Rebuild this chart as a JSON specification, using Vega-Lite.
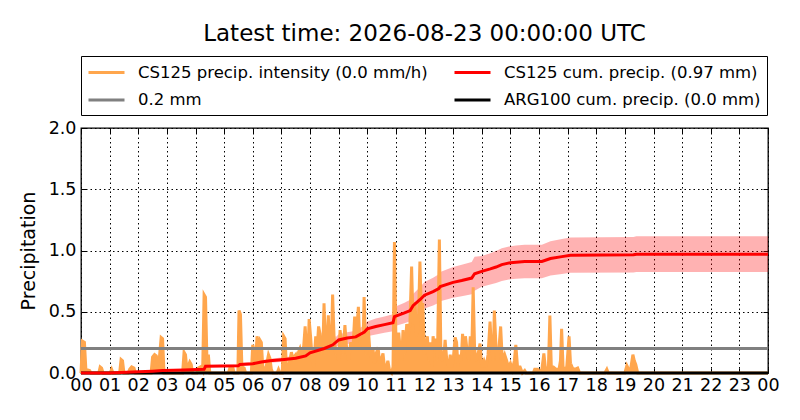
{
  "$schema": "https://vega.github.io/schema/vega-lite/v6.json",
  "width": 687,
  "height": 245,
  "autosize": {"type": "none"},
  "padding": {"left": 81, "top": 128, "right": 32, "bottom": 47},
  "background": "white",
  "title": {
    "text": "Latest time: 2026-08-23 00:00:00 UTC",
    "fontSize": 23,
    "font": "DejaVu Sans",
    "fontWeight": "normal",
    "color": "black",
    "anchor": "middle",
    "frame": "group",
    "baseline": "alphabetic",
    "offset": -8
  },
  "config": {
    "font": "DejaVu Sans",
    "view": {"stroke": "black", "strokeWidth": 1.3},
    "axis": {
      "domain": false,
      "gridColor": "black",
      "gridDash": [1.5, 3],
      "gridWidth": 1,
      "gridOpacity": 1,
      "tickColor": "black",
      "tickSize": -5,
      "tickWidth": 1,
      "labelFont": "DejaVu Sans",
      "labelFontSize": 17.5,
      "labelColor": "black",
      "titleFont": "DejaVu Sans",
      "titleFontSize": 19,
      "titleFontWeight": "normal",
      "titleColor": "black"
    },
    "legend": {
      "symbolType": "M-1,0H3",
      "symbolStrokeWidth": 3,
      "symbolSize": 324,
      "labelFont": "DejaVu Sans",
      "labelFontSize": 16.5,
      "labelColor": "black",
      "labelLimit": 500,
      "labelOffset": 30
    }
  },
  "datasets": {
    "intensity": [
      {"h":0,"v":0},{"h":0.05,"v":0.26},{"h":0.12,"v":0.25},{"h":0.17,"v":0.03},{"h":0.3,"v":0.02},{"h":0.35,"v":0},
      {"h":0.62,"v":0},{"h":0.67,"v":0.05},{"h":0.72,"v":0.04},{"h":0.77,"v":0},
      {"h":1.02,"v":0},{"h":1.07,"v":0.03},{"h":1.12,"v":0},
      {"h":1.35,"v":0},{"h":1.4,"v":0.11},{"h":1.45,"v":0.1},{"h":1.5,"v":0},
      {"h":1.65,"v":0},{"h":1.7,"v":0.03},{"h":1.77,"v":0.05},{"h":1.85,"v":0.04},{"h":1.9,"v":0},
      {"h":2.45,"v":0},{"h":2.5,"v":0.13},{"h":2.57,"v":0.15},{"h":2.63,"v":0.14},{"h":2.68,"v":0.08},{"h":2.73,"v":0.1},{"h":2.8,"v":0.29},{"h":2.85,"v":0.28},{"h":2.9,"v":0},
      {"h":3.55,"v":0},{"h":3.6,"v":0.17},{"h":3.65,"v":0.15},{"h":3.7,"v":0.03},{"h":3.8,"v":0.09},{"h":3.85,"v":0.07},{"h":3.9,"v":0},
      {"h":4.05,"v":0},{"h":4.1,"v":0.04},{"h":4.18,"v":0.05},{"h":4.25,"v":0.02},{"h":4.3,"v":0.64},{"h":4.35,"v":0.62},{"h":4.4,"v":0.1},{"h":4.45,"v":0.15},{"h":4.5,"v":0},
      {"h":5.15,"v":0},{"h":5.2,"v":0.04},{"h":5.3,"v":0.05},{"h":5.35,"v":0},{"h":5.48,"v":0},{"h":5.52,"v":0.51},{"h":5.57,"v":0.48},{"h":5.62,"v":0.05},{"h":5.7,"v":0.04},{"h":5.75,"v":0},
      {"h":5.95,"v":0},{"h":6.0,"v":0.23},{"h":6.05,"v":0.18},{"h":6.1,"v":0.1},{"h":6.15,"v":0.3},{"h":6.2,"v":0.22},{"h":6.25,"v":0.27},{"h":6.3,"v":0.25},{"h":6.35,"v":0.05},{"h":6.45,"v":0.03},{"h":6.55,"v":0.15},{"h":6.6,"v":0.12},{"h":6.65,"v":0.03},{"h":6.7,"v":0},
      {"h":6.85,"v":0},{"h":6.9,"v":0.03},{"h":6.95,"v":0},{"h":7.03,"v":0},{"h":7.08,"v":0.3},{"h":7.13,"v":0.28},{"h":7.18,"v":0.03},{"h":7.25,"v":0.05},{"h":7.35,"v":0.17},{"h":7.4,"v":0.12},{"h":7.5,"v":0.15},{"h":7.55,"v":0.1},{"h":7.6,"v":0.17},{"h":7.65,"v":0.2},{"h":7.7,"v":0.15},{"h":7.78,"v":0.22},{"h":7.83,"v":0.38},{"h":7.88,"v":0.2},{"h":7.93,"v":0.15},{"h":7.97,"v":0.44},
      {"h":8.02,"v":0.3},{"h":8.08,"v":0.1},{"h":8.13,"v":0.05},{"h":8.2,"v":0.3},{"h":8.25,"v":0.2},{"h":8.3,"v":0.38},{"h":8.35,"v":0.32},{"h":8.4,"v":0.15},{"h":8.45,"v":0.2},{"h":8.49,"v":0.57},{"h":8.54,"v":0.2},{"h":8.6,"v":0.3},{"h":8.64,"v":0.47},{"h":8.69,"v":0.2},{"h":8.75,"v":0.3},{"h":8.79,"v":0.64},{"h":8.84,"v":0.3},{"h":8.9,"v":0.15},{"h":8.95,"v":0.2},
      {"h":9.0,"v":0.1},{"h":9.05,"v":0.35},{"h":9.1,"v":0.25},{"h":9.15,"v":0.15},{"h":9.22,"v":0.39},{"h":9.28,"v":0.2},{"h":9.35,"v":0.1},{"h":9.42,"v":0.25},{"h":9.5,"v":0.2},{"h":9.56,"v":0.46},{"h":9.62,"v":0.3},{"h":9.69,"v":0.54},{"h":9.74,"v":0.25},{"h":9.8,"v":0.3},{"h":9.85,"v":0.2},{"h":9.89,"v":0.62},{"h":9.95,"v":0.15},
      {"h":10.0,"v":0.2},{"h":10.04,"v":0.35},{"h":10.1,"v":0.15},{"h":10.15,"v":0.1},{"h":10.2,"v":0.2},{"h":10.25,"v":0.08},{"h":10.3,"v":0.15},{"h":10.38,"v":0.21},{"h":10.43,"v":0.08},{"h":10.5,"v":0.12},{"h":10.55,"v":0.16},{"h":10.6,"v":0.05},{"h":10.65,"v":0.03},{"h":10.72,"v":0.1},{"h":10.78,"v":0.02},{"h":10.85,"v":0},{"h":10.9,"v":0.05},{"h":10.95,"v":1.07},
      {"h":11.0,"v":0.3},{"h":11.05,"v":0.1},{"h":11.1,"v":0.33},{"h":11.15,"v":0.2},{"h":11.2,"v":0.1},{"h":11.25,"v":0.35},{"h":11.3,"v":0.15},{"h":11.38,"v":0.4},{"h":11.43,"v":0.3},{"h":11.49,"v":0.4},{"h":11.55,"v":0.87},{"h":11.6,"v":0.4},{"h":11.67,"v":0.58},{"h":11.72,"v":0.3},{"h":11.78,"v":0.35},{"h":11.84,"v":0.91},{"h":11.89,"v":0.5},{"h":11.94,"v":0.57},
      {"h":12.0,"v":0.15},{"h":12.05,"v":0.2},{"h":12.1,"v":0.3},{"h":12.15,"v":0.1},{"h":12.2,"v":0.25},{"h":12.25,"v":0.05},{"h":12.3,"v":0.3},{"h":12.35,"v":0.2},{"h":12.4,"v":0.28},{"h":12.45,"v":0.1},{"h":12.52,"v":1.09},{"h":12.57,"v":0.2},{"h":12.62,"v":0.1},{"h":12.68,"v":0.15},{"h":12.72,"v":0.27},{"h":12.78,"v":0.1},{"h":12.85,"v":0.05},{"h":12.9,"v":0.15},{"h":12.95,"v":0.05},
      {"h":13.0,"v":0.1},{"h":13.07,"v":0.29},{"h":13.12,"v":0.25},{"h":13.17,"v":0.05},{"h":13.22,"v":0.15},{"h":13.28,"v":0.1},{"h":13.33,"v":0.32},{"h":13.38,"v":0.15},{"h":13.43,"v":0.3},{"h":13.48,"v":0.2},{"h":13.55,"v":0.1},{"h":13.6,"v":0.3},{"h":13.65,"v":0.15},{"h":13.7,"v":0.7},{"h":13.75,"v":0.2},{"h":13.8,"v":0.1},{"h":13.87,"v":0.15},{"h":13.94,"v":0.24},
      {"h":14.0,"v":0.05},{"h":14.08,"v":0.1},{"h":14.15,"v":0.05},{"h":14.22,"v":0.15},{"h":14.29,"v":0.42},{"h":14.34,"v":0.2},{"h":14.4,"v":0.1},{"h":14.44,"v":0.51},{"h":14.5,"v":0.2},{"h":14.55,"v":0.1},{"h":14.6,"v":0.2},{"h":14.66,"v":0.38},{"h":14.72,"v":0.1},{"h":14.8,"v":0.15},{"h":14.87,"v":0.1},{"h":14.93,"v":0.05},
      {"h":15.0,"v":0.08},{"h":15.07,"v":0.03},{"h":15.14,"v":0.1},{"h":15.19,"v":0.23},{"h":15.25,"v":0.05},{"h":15.34,"v":0.05},{"h":15.42,"v":0},{"h":15.5,"v":0.02},{"h":15.55,"v":0},
      {"h":15.8,"v":0},{"h":15.85,"v":0.03},{"h":15.95,"v":0.03},{"h":16.0,"v":0.01},{"h":16.1,"v":0.03},{"h":16.17,"v":0.16},{"h":16.22,"v":0.05},{"h":16.28,"v":0.03},{"h":16.33,"v":0.05},{"h":16.38,"v":0.47},{"h":16.43,"v":0.05},{"h":16.5,"v":0.05},{"h":16.6,"v":0.03},{"h":16.7,"v":0.03},{"h":16.75,"v":0.1},{"h":16.79,"v":0.36},{"h":16.84,"v":0.05},{"h":16.9,"v":0.03},{"h":16.97,"v":0.05},
      {"h":17.05,"v":0.3},{"h":17.1,"v":0.08},{"h":17.17,"v":0.04},{"h":17.25,"v":0.03},{"h":17.35,"v":0.04},{"h":17.42,"v":0},
      {"h":18.3,"v":0},{"h":18.37,"v":0.03},{"h":18.42,"v":0},
      {"h":19.0,"v":0},{"h":19.07,"v":0.06},{"h":19.13,"v":0.03},{"h":19.2,"v":0.03},{"h":19.28,"v":0.15},{"h":19.33,"v":0.1},{"h":19.38,"v":0.07},{"h":19.45,"v":0},
      {"h":24,"v":0}
    ],
    "cum": [
      {"h":0,"c":0,"lo":0,"hi":0},
      {"h":1.0,"c":0,"lo":0,"hi":0},
      {"h":2.0,"c":0.01,"lo":0.008,"hi":0.012},
      {"h":2.5,"c":0.015,"lo":0.012,"hi":0.018},
      {"h":2.85,"c":0.02,"lo":0.017,"hi":0.024},
      {"h":3.6,"c":0.025,"lo":0.021,"hi":0.03},
      {"h":4.3,"c":0.03,"lo":0.025,"hi":0.035},
      {"h":4.35,"c":0.055,"lo":0.046,"hi":0.064},
      {"h":5.5,"c":0.06,"lo":0.05,"hi":0.07},
      {"h":5.55,"c":0.07,"lo":0.058,"hi":0.082},
      {"h":6.0,"c":0.075,"lo":0.062,"hi":0.088},
      {"h":6.3,"c":0.09,"lo":0.075,"hi":0.105},
      {"h":6.6,"c":0.1,"lo":0.083,"hi":0.117},
      {"h":7.1,"c":0.11,"lo":0.091,"hi":0.129},
      {"h":7.5,"c":0.12,"lo":0.1,"hi":0.14},
      {"h":7.85,"c":0.14,"lo":0.116,"hi":0.164},
      {"h":8.0,"c":0.165,"lo":0.137,"hi":0.193},
      {"h":8.5,"c":0.2,"lo":0.166,"hi":0.234},
      {"h":8.8,"c":0.23,"lo":0.191,"hi":0.269},
      {"h":9.0,"c":0.27,"lo":0.224,"hi":0.316},
      {"h":9.3,"c":0.285,"lo":0.237,"hi":0.333},
      {"h":9.6,"c":0.295,"lo":0.245,"hi":0.345},
      {"h":9.9,"c":0.335,"lo":0.278,"hi":0.392},
      {"h":10.0,"c":0.36,"lo":0.299,"hi":0.421},
      {"h":10.3,"c":0.38,"lo":0.315,"hi":0.445},
      {"h":10.6,"c":0.395,"lo":0.328,"hi":0.462},
      {"h":10.9,"c":0.41,"lo":0.34,"hi":0.48},
      {"h":10.95,"c":0.46,"lo":0.382,"hi":0.538},
      {"h":11.3,"c":0.49,"lo":0.407,"hi":0.573},
      {"h":11.5,"c":0.51,"lo":0.423,"hi":0.597},
      {"h":11.6,"c":0.55,"lo":0.457,"hi":0.644},
      {"h":11.85,"c":0.6,"lo":0.498,"hi":0.702},
      {"h":12.0,"c":0.635,"lo":0.527,"hi":0.743},
      {"h":12.3,"c":0.665,"lo":0.552,"hi":0.778},
      {"h":12.5,"c":0.69,"lo":0.573,"hi":0.807},
      {"h":12.55,"c":0.705,"lo":0.585,"hi":0.825},
      {"h":13.0,"c":0.74,"lo":0.614,"hi":0.866},
      {"h":13.3,"c":0.755,"lo":0.627,"hi":0.883},
      {"h":13.65,"c":0.775,"lo":0.643,"hi":0.907},
      {"h":13.75,"c":0.81,"lo":0.672,"hi":0.948},
      {"h":14.0,"c":0.83,"lo":0.705,"hi":0.955},
      {"h":14.3,"c":0.85,"lo":0.722,"hi":0.978},
      {"h":14.5,"c":0.865,"lo":0.735,"hi":0.995},
      {"h":14.7,"c":0.885,"lo":0.752,"hi":1.018},
      {"h":15.0,"c":0.9,"lo":0.765,"hi":1.035},
      {"h":15.2,"c":0.905,"lo":0.769,"hi":1.041},
      {"h":15.5,"c":0.91,"lo":0.774,"hi":1.047},
      {"h":16.1,"c":0.91,"lo":0.774,"hi":1.047},
      {"h":16.4,"c":0.935,"lo":0.795,"hi":1.075},
      {"h":16.8,"c":0.95,"lo":0.808,"hi":1.093},
      {"h":17.1,"c":0.962,"lo":0.818,"hi":1.106},
      {"h":19.3,"c":0.965,"lo":0.82,"hi":1.11},
      {"h":19.4,"c":0.97,"lo":0.825,"hi":1.116},
      {"h":24,"c":0.97,"lo":0.825,"hi":1.116}
    ],
    "arg100": [
      {"h":0,"c":0},{"h":24,"c":0}
    ],
    "threshold": [
      {"level":0.2}
    ]
  },
  "resolve": {"axis": {"x": "independent", "y": "independent"}},
  "layer": [
    {
      "data": {"name": "cum"},
      "mark": {"type": "area", "color": "#ff0000", "opacity": 0.3},
      "encoding": {
        "x": {"field": "h", "type": "quantitative",
              "scale": {"domain": [0, 24], "nice": false, "zero": false},
              "axis": {"orient": "bottom", "values": [0,1,2,3,4,5,6,7,8,9,10,11,12,13,14,15,16,17,18,19,20,21,22,23,24],
                       "labelExpr": "(datum.value % 24 < 10 ? '0' : '') + (datum.value % 24)",
                       "grid": true, "title": null, "labelPadding": 8, "labelFlush": false, "labelOverlap": false}},
        "y": {"field": "lo", "type": "quantitative",
              "scale": {"domain": [0, 2], "nice": false},
              "axis": {"orient": "left", "values": [0, 0.5, 1, 1.5, 2], "format": ".1f",
                       "grid": true, "title": "Precipitation", "labelPadding": 10, "titlePadding": 10}},
        "y2": {"field": "hi"}
      }
    },
    {
      "data": {"name": "intensity"},
      "mark": {"type": "area", "color": "#ffa64d", "opacity": 1, "interpolate": "linear"},
      "encoding": {
        "x": {"field": "h", "type": "quantitative", "axis": null},
        "y": {"field": "v", "type": "quantitative", "axis": null}
      }
    },
    {
      "data": {"name": "intensity"},
      "mark": {"type": "line", "strokeWidth": 3, "interpolate": "linear"},
      "encoding": {
        "x": {"field": "h", "type": "quantitative",
              "axis": {"orient": "top", "values": [0,1,2,3,4,5,6,7,8,9,10,11,12,13,14,15,16,17,18,19,20,21,22,23,24],
                       "labels": false, "grid": false, "title": null}},
        "y": {"field": "v", "type": "quantitative",
              "axis": {"orient": "right", "values": [0, 0.5, 1, 1.5, 2], "labels": false, "grid": false, "title": null}},
        "color": {"datum": "CS125 precip. intensity (0.0 mm/h)", "type": "nominal",
                  "scale": {"domain": ["CS125 precip. intensity (0.0 mm/h)", "0.2 mm", "CS125 cum. precip. (0.97 mm)", "ARG100 cum. precip. (0.0 mm)"],
                            "range": ["#ffa64d", "#808080", "#ff0000", "#000000"]},
                  "legend": {"title": null, "orient": "none", "legendX": 0, "legendY": -72, "columns": 2,
                             "columnPadding": 20, "rowPadding": 8.5, "padding": 6,
                             "strokeColor": "black", "fillColor": "white"}}
      }
    },
    {
      "data": {"name": "threshold"},
      "mark": {"type": "rule", "strokeWidth": 3},
      "encoding": {
        "y": {"field": "level", "type": "quantitative", "axis": null},
        "color": {"datum": "0.2 mm", "type": "nominal"}
      }
    },
    {
      "data": {"name": "arg100"},
      "mark": {"type": "line", "strokeWidth": 3},
      "encoding": {
        "x": {"field": "h", "type": "quantitative", "axis": null},
        "y": {"field": "c", "type": "quantitative", "axis": null},
        "color": {"datum": "ARG100 cum. precip. (0.0 mm)", "type": "nominal"}
      }
    },
    {
      "data": {"name": "cum"},
      "mark": {"type": "line", "strokeWidth": 3},
      "encoding": {
        "x": {"field": "h", "type": "quantitative", "axis": null},
        "y": {"field": "c", "type": "quantitative", "axis": null},
        "color": {"datum": "CS125 cum. precip. (0.97 mm)", "type": "nominal"}
      }
    }
  ]
}
